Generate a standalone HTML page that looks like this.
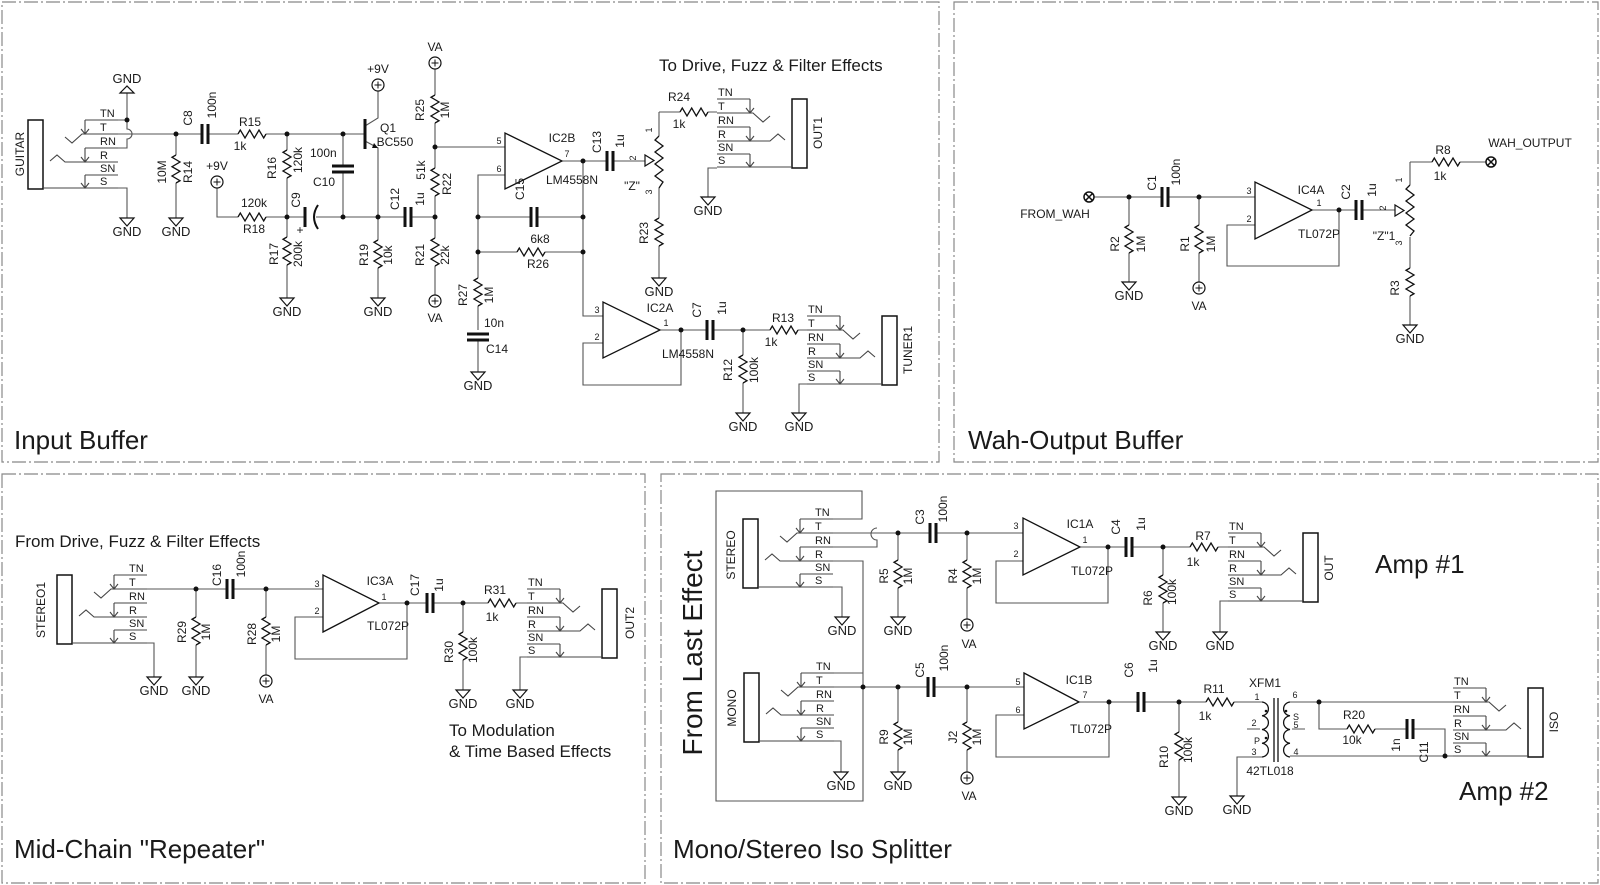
<!DOCTYPE html>
<html><head><meta charset="utf-8">
<style>
html,body{margin:0;padding:0;background:#fff;}
svg{display:block;}
text{font-family:"Liberation Sans",sans-serif;fill:#1a1a1a;}
.t{font-size:12px;}
.s{font-size:11px;}
.p{font-size:9px;}
.g{font-size:13px;text-anchor:middle;}
.big{font-size:26px;}
.mid{font-size:17px;}
.w{fill:none;stroke:#555;stroke-width:1.1;}
.k{fill:none;stroke:#111;stroke-width:1.3;}
</style></head><body>
<svg width="1600" height="885" viewBox="0 0 1600 885" xmlns="http://www.w3.org/2000/svg">
<defs>
<g id="rv"><rect x="-6" y="0" width="12" height="28" fill="#fff"/><path d="M0 0 L-4 2.3 L4 7 L-4 11.7 L4 16.3 L-4 21 L4 25.7 L0 28" fill="none" stroke="#111" stroke-width="1.3"/></g>
<g id="rh"><rect x="0" y="-6" width="28" height="12" fill="#fff"/><path d="M0 0 L2.3 -4 L7 4 L11.7 -4 L16.3 4 L21 -4 L25.7 4 L28 0" fill="none" stroke="#111" stroke-width="1.3"/></g>
<g id="ch"><rect x="0" y="-11" width="6" height="22" fill="#fff"/><path d="M0 -10 V10 M6 -10 V10" stroke="#111" stroke-width="3"/></g>
<g id="cv"><rect x="-12" y="0" width="24" height="6" fill="#fff"/><path d="M-11 0 H11 M-11 6 H11" stroke="#111" stroke-width="3"/></g>
<g id="gnd"><path d="M-7 0 H7 L0 8 Z" fill="none" stroke="#111" stroke-width="1.2"/></g>
<g id="vcc"><circle r="6" fill="#fff" stroke="#111" stroke-width="1.2"/><path d="M-3.5 0 H3.5 M0 -3.5 V3.5" stroke="#111" stroke-width="1"/></g>
<g id="jk" fill="none" stroke="#444" stroke-width="1.1">
<rect x="0" y="0" width="15" height="69" fill="#fff" stroke="#111" stroke-width="1.5"/>
<path d="M57 0 H90 M57 0 V14 M53 9 L57 14 L61 9"/>
<path d="M37 17 L44 23 L54 14 H90"/>
<path d="M57 28 H90 M57 28 V42 M53 37 L57 42 L61 37"/>
<path d="M22 41 L29 35 L37 42 H90"/>
<path d="M57 55 H90 M57 55 V68 M53 63 L57 68 L61 63"/>
<path d="M15 68 H90"/>
</g>
</defs>

<!-- panel borders -->
<g fill="none" stroke="#888" stroke-width="1.2" stroke-dasharray="14,3,2,3">
<rect x="2" y="2" width="937" height="460"/>
<rect x="954" y="2" width="644" height="460"/>
<rect x="2" y="474" width="643" height="409"/>
<rect x="661" y="474" width="937" height="409"/>
</g>

<!-- ================= INPUT BUFFER ================= -->
<g class="w">
<path d="M118 120 H127 V93"/>
<path d="M127 120 V129 A5 5 0 0 1 127 139 V148 H118"/>
<path d="M118 134 H365"/>
<path d="M118 188 H127 V218"/>
<path d="M176 134 V218"/>
<path d="M287 134 V298"/>
<path d="M217 188 V217 H435"/>
<path d="M343 134 V217"/>
<path d="M365 126 L378 118 V91"/>
<path d="M365 141 L378 148 V298"/>
<path d="M435 69 V295"/>
<path d="M435 147 H505"/>
<path d="M505 175 H478 V330 M478 341 V372"/>
<path d="M478 217 H583 M478 252 H583"/>
<path d="M562 161 H645"/>
<path d="M583 161 V316 H603"/>
<path d="M603 343 H583 V385 H681 V330"/>
<path d="M660 330 H807"/>
<path d="M743 330 V413"/>
<path d="M659 112 V278"/>
<path d="M659 112 H717"/>
<path d="M717 168 H708 V197"/>
<path d="M807 384 H799 V413"/>
</g>
<path d="M374 143 L378 148 L372 148 Z" fill="#111"/>
<path d="M365 119 V149" stroke="#111" stroke-width="3"/>
<path d="M127 93 L120 93 L127 86 L134 93 Z" fill="none" stroke="#111" stroke-width="1.2"/>
<use href="#jk" transform="translate(28,120)"/>
<use href="#jk" transform="translate(807,99) scale(-1,1)"/>
<use href="#jk" transform="translate(897,316) scale(-1,1)"/>
<use href="#ch" x="202" y="134"/>
<use href="#rh" x="238" y="134"/>
<use href="#rv" x="176" y="155"/>
<use href="#rv" x="287" y="150"/>
<use href="#rh" x="238" y="217"/>
<use href="#rv" x="287" y="237"/>
<rect x="304" y="206" width="12" height="22" fill="#fff"/>
<path d="M305 207 V227" stroke="#111" stroke-width="3"/>
<path d="M318 205 Q310 217 318 229" fill="none" stroke="#111" stroke-width="2"/>
<use href="#cv" x="343" y="166"/>
<use href="#rv" x="378" y="240"/>
<use href="#ch" x="405" y="217"/>
<use href="#rv" x="435" y="95"/>
<use href="#rv" x="435" y="168"/>
<use href="#rv" x="435" y="238"/>
<use href="#ch" x="531" y="217"/>
<use href="#rh" x="517" y="252"/>
<use href="#rv" x="478" y="278"/>
<use href="#cv" x="478" y="334"/>
<use href="#ch" x="607" y="161"/>
<rect x="652" y="136" width="14" height="52" fill="#fff"/>
<path d="M659 136 L655 140 L663 146 L655 152 L663 158 L655 164 L663 170 L655 176 L663 182 L659 188" fill="none" stroke="#111" stroke-width="1.3"/>
<path d="M645 155 L645 166 L654 160.5 Z" fill="none" stroke="#111" stroke-width="1.2"/>
<use href="#rv" x="659" y="218"/>
<use href="#rh" x="680" y="112"/>
<use href="#ch" x="707" y="330"/>
<use href="#rv" x="743" y="355"/>
<use href="#rh" x="770" y="330"/>
<polygon points="505,133 505,189 562,161" fill="#fff" stroke="#111" stroke-width="1.3"/>
<polygon points="603,302 603,358 660,330" fill="#fff" stroke="#111" stroke-width="1.3"/>
<use href="#vcc" x="217" y="182"/>
<use href="#vcc" x="378" y="85"/>
<use href="#vcc" x="435" y="63"/>
<use href="#vcc" x="435" y="301"/>
<use href="#gnd" x="127" y="218"/>
<use href="#gnd" x="176" y="218"/>
<use href="#gnd" x="287" y="298"/>
<use href="#gnd" x="378" y="298"/>
<use href="#gnd" x="478" y="372"/>
<use href="#gnd" x="659" y="278"/>
<use href="#gnd" x="708" y="197"/>
<use href="#gnd" x="743" y="413"/>
<use href="#gnd" x="799" y="413"/>
<g fill="#111">
<circle cx="127" cy="120" r="2.5"/><circle cx="176" cy="134" r="2.5"/><circle cx="287" cy="134" r="2.5"/><circle cx="343" cy="134" r="2.5"/>
<circle cx="287" cy="217" r="2.5"/><circle cx="343" cy="217" r="2.5"/><circle cx="378" cy="217" r="2.5"/><circle cx="435" cy="217" r="2.5"/><circle cx="435" cy="147" r="2.5"/>
<circle cx="478" cy="217" r="2.5"/><circle cx="478" cy="252" r="2.5"/><circle cx="583" cy="217" r="2.5"/><circle cx="583" cy="252" r="2.5"/><circle cx="583" cy="161" r="2.5"/>
<circle cx="681" cy="330" r="2.5"/><circle cx="743" cy="330" r="2.5"/>
</g>
<g class="s">
<text x="100" y="117">TN</text><text x="100" y="131">T</text><text x="100" y="145">RN</text><text x="100" y="159">R</text><text x="100" y="172">SN</text><text x="100" y="185">S</text>
<text x="718" y="96">TN</text><text x="718" y="110">T</text><text x="718" y="124">RN</text><text x="718" y="138">R</text><text x="718" y="151">SN</text><text x="718" y="164">S</text>
<text x="808" y="313">TN</text><text x="808" y="327">T</text><text x="808" y="341">RN</text><text x="808" y="355">R</text><text x="808" y="368">SN</text><text x="808" y="381">S</text>
</g>
<g class="g">
<text x="127" y="83">GND</text><text x="127" y="236">GND</text><text x="176" y="236">GND</text><text x="287" y="316">GND</text><text x="378" y="316">GND</text>
<text x="478" y="390">GND</text><text x="659" y="296">GND</text><text x="708" y="215">GND</text><text x="743" y="431">GND</text><text x="799" y="431">GND</text>
</g>
<g class="t" text-anchor="middle">
<text transform="rotate(-90 24 154)" x="24" y="154">GUITAR</text>
<text transform="rotate(-90 822 133)" x="822" y="133">OUT1</text>
<text transform="rotate(-90 912 350)" x="912" y="350">TUNER1</text>
<text transform="rotate(-90 192 118)" x="192" y="118">C8</text>
<text transform="rotate(-90 216 105)" x="216" y="105">100n</text>
<text x="250" y="126">R15</text><text x="240" y="150">1k</text>
<text transform="rotate(-90 166 172)" x="166" y="172">10M</text>
<text transform="rotate(-90 192 172)" x="192" y="172">R14</text>
<text x="217" y="170">+9V</text>
<text transform="rotate(-90 276 168)" x="276" y="168">R16</text>
<text transform="rotate(-90 302 160)" x="302" y="160">120k</text>
<text x="254" y="207">120k</text><text x="254" y="233">R18</text>
<text transform="rotate(-90 278 254)" x="278" y="254">R17</text>
<text transform="rotate(-90 302 254)" x="302" y="254">200k</text>
<text transform="rotate(-90 300 200)" x="300" y="200">C9</text>
<text x="300" y="234">+</text>
<text x="310" y="157" text-anchor="start">100n</text><text x="313" y="186" text-anchor="start">C10</text>
<text x="378" y="73">+9V</text>
<text x="388" y="132">Q1</text><text x="395" y="146">BC550</text>
<text transform="rotate(-90 368 255)" x="368" y="255">R19</text>
<text transform="rotate(-90 392 255)" x="392" y="255">10k</text>
<text transform="rotate(-90 399 199)" x="399" y="199">C12</text>
<text transform="rotate(-90 424 199)" x="424" y="199">1u</text>
<text x="435" y="51">VA</text><text x="435" y="322">VA</text>
<text transform="rotate(-90 424 110)" x="424" y="110">R25</text>
<text transform="rotate(-90 449 110)" x="449" y="110">1M</text>
<text transform="rotate(-90 425 170)" x="425" y="170">51k</text>
<text transform="rotate(-90 451 184)" x="451" y="184">R22</text>
<text transform="rotate(-90 424 255)" x="424" y="255">R21</text>
<text transform="rotate(-90 449 255)" x="449" y="255">22k</text>
<text x="562" y="142">IC2B</text><text x="572" y="184">LM4558N</text>
<text transform="rotate(-90 524 189)" x="524" y="189">C15</text>
<text x="540" y="243">6k8</text><text x="538" y="268">R26</text>
<text transform="rotate(-90 467 295)" x="467" y="295">R27</text>
<text transform="rotate(-90 493 295)" x="493" y="295">1M</text>
<text x="494" y="327">10n</text><text x="497" y="353">C14</text>
<text transform="rotate(-90 601 142)" x="601" y="142">C13</text>
<text transform="rotate(-90 624 141)" x="624" y="141">1u</text>
<text x="632" y="190">"Z"</text>
<text x="679" y="101">R24</text><text x="679" y="128">1k</text>
<text transform="rotate(-90 648 233)" x="648" y="233">R23</text>
<text x="660" y="312">IC2A</text><text x="688" y="358">LM4558N</text>
<text transform="rotate(-90 701 310)" x="701" y="310">C7</text>
<text transform="rotate(-90 726 308)" x="726" y="308">1u</text>
<text x="783" y="322">R13</text><text x="771" y="346">1k</text>
<text transform="rotate(-90 732 370)" x="732" y="370">R12</text>
<text transform="rotate(-90 758 370)" x="758" y="370">100k</text>
</g>
<g class="p" text-anchor="middle">
<text x="499" y="144">5</text><text x="499" y="172">6</text><text x="567" y="157">7</text>
<text x="597" y="313">3</text><text x="597" y="340">2</text><text x="666" y="326">1</text>
<text transform="rotate(-90 636 158)" x="636" y="158">2</text>
<text transform="rotate(-90 652 130)" x="652" y="130">1</text>
<text transform="rotate(-90 652 192)" x="652" y="192">3</text>
</g>
<text class="mid" x="659" y="71">To Drive, Fuzz &amp; Filter Effects</text>
<text class="big" x="14" y="449">Input Buffer</text>

<!-- ================= WAH ================= -->
<g class="w">
<path d="M1094 197 H1255"/>
<path d="M1129 197 V282 M1199 197 V282"/>
<path d="M1255 225 H1227 V266 H1339 V210"/>
<path d="M1312 210 H1395"/>
<path d="M1410 162 V325 M1410 162 H1486"/>
</g>
<circle cx="1089" cy="197" r="5" fill="#fff" stroke="#111" stroke-width="1.5"/><path d="M1085.5 193.5 L1092.5 200.5 M1092.5 193.5 L1085.5 200.5" stroke="#111" stroke-width="1.5"/>
<circle cx="1491" cy="162" r="5" fill="#fff" stroke="#111" stroke-width="1.5"/><path d="M1487.5 158.5 L1494.5 165.5 M1494.5 158.5 L1487.5 165.5" stroke="#111" stroke-width="1.5"/>
<use href="#ch" x="1162" y="197"/>
<use href="#rv" x="1129" y="225"/>
<use href="#rv" x="1199" y="225"/>
<use href="#ch" x="1356" y="210"/>
<polygon points="1255,182 1255,239 1312,210" fill="#fff" stroke="#111" stroke-width="1.3"/>
<rect x="1403" y="185" width="14" height="52" fill="#fff"/>
<path d="M1410 185 L1406 189 L1414 195 L1406 201 L1414 207 L1406 213 L1414 219 L1406 225 L1414 231 L1410 236" fill="none" stroke="#111" stroke-width="1.3"/>
<path d="M1395 205 L1395 216 L1404 210.5 Z" fill="none" stroke="#111" stroke-width="1.2"/>
<use href="#rv" x="1410" y="268"/>
<use href="#rh" x="1432" y="162"/>
<use href="#vcc" x="1199" y="288"/>
<use href="#gnd" x="1129" y="282"/>
<use href="#gnd" x="1410" y="325"/>
<g fill="#111"><circle cx="1129" cy="197" r="2.5"/><circle cx="1199" cy="197" r="2.5"/><circle cx="1339" cy="210" r="2.5"/></g>
<g class="g"><text x="1129" y="300">GND</text><text x="1410" y="343">GND</text></g>
<g class="t" text-anchor="middle">
<text x="1055" y="218">FROM_WAH</text>
<text x="1530" y="147">WAH_OUTPUT</text>
<text transform="rotate(-90 1156 183)" x="1156" y="183">C1</text>
<text transform="rotate(-90 1180 172)" x="1180" y="172">100n</text>
<text transform="rotate(-90 1119 244)" x="1119" y="244">R2</text>
<text transform="rotate(-90 1145 244)" x="1145" y="244">1M</text>
<text transform="rotate(-90 1189 244)" x="1189" y="244">R1</text>
<text transform="rotate(-90 1215 244)" x="1215" y="244">1M</text>
<text x="1199" y="310">VA</text>
<text x="1311" y="194">IC4A</text><text x="1319" y="238">TL072P</text>
<text transform="rotate(-90 1350 192)" x="1350" y="192">C2</text>
<text transform="rotate(-90 1376 190)" x="1376" y="190">1u</text>
<text x="1384" y="240">"Z"1</text>
<text x="1443" y="154">R8</text><text x="1440" y="180">1k</text>
<text transform="rotate(-90 1399 288)" x="1399" y="288">R3</text>
</g>
<g class="p" text-anchor="middle">
<text x="1249" y="194">3</text><text x="1249" y="222">2</text><text x="1319" y="206">1</text>
<text transform="rotate(-90 1386 208)" x="1386" y="208">2</text>
<text transform="rotate(-90 1402 180)" x="1402" y="180">1</text>
<text transform="rotate(-90 1402 243)" x="1402" y="243">3</text>
</g>
<text class="big" x="968" y="449">Wah-Output Buffer</text>

<!-- ================= MID-CHAIN ================= -->
<g class="w">
<path d="M147 589 H323"/>
<path d="M196 589 V677 M266 589 V675"/>
<path d="M147 643 H154 V677"/>
<path d="M323 617 H295 V659 H407 V603"/>
<path d="M379 603 H527"/>
<path d="M463 603 V690"/>
<path d="M527 657 H520 V690"/>
</g>
<use href="#jk" transform="translate(57,575)"/>
<use href="#jk" transform="translate(617,589) scale(-1,1)"/>
<use href="#ch" x="227" y="589"/>
<use href="#rv" x="196" y="617"/>
<use href="#rv" x="266" y="617"/>
<use href="#ch" x="427" y="603"/>
<use href="#rv" x="463" y="632"/>
<use href="#rh" x="488" y="603"/>
<polygon points="323,575 323,632 379,603" fill="#fff" stroke="#111" stroke-width="1.3"/>
<use href="#vcc" x="266" y="681"/>
<use href="#gnd" x="154" y="677"/><use href="#gnd" x="196" y="677"/><use href="#gnd" x="463" y="690"/><use href="#gnd" x="520" y="690"/>
<g fill="#111"><circle cx="196" cy="589" r="2.5"/><circle cx="266" cy="589" r="2.5"/><circle cx="407" cy="603" r="2.5"/><circle cx="463" cy="603" r="2.5"/></g>
<g class="s">
<text x="129" y="572">TN</text><text x="129" y="586">T</text><text x="129" y="600">RN</text><text x="129" y="614">R</text><text x="129" y="627">SN</text><text x="129" y="640">S</text>
<text x="528" y="586">TN</text><text x="528" y="600">T</text><text x="528" y="614">RN</text><text x="528" y="628">R</text><text x="528" y="641">SN</text><text x="528" y="654">S</text>
</g>
<g class="g"><text x="154" y="695">GND</text><text x="196" y="695">GND</text><text x="463" y="708">GND</text><text x="520" y="708">GND</text></g>
<g class="t" text-anchor="middle">
<text transform="rotate(-90 45 610)" x="45" y="610">STEREO1</text>
<text transform="rotate(-90 634 623)" x="634" y="623">OUT2</text>
<text transform="rotate(-90 221 575)" x="221" y="575">C16</text>
<text transform="rotate(-90 245 564)" x="245" y="564">100n</text>
<text transform="rotate(-90 186 632)" x="186" y="632">R29</text>
<text transform="rotate(-90 210 632)" x="210" y="632">1M</text>
<text transform="rotate(-90 256 634)" x="256" y="634">R28</text>
<text transform="rotate(-90 280 634)" x="280" y="634">1M</text>
<text x="266" y="703">VA</text>
<text x="380" y="585">IC3A</text><text x="388" y="630">TL072P</text>
<text transform="rotate(-90 419 585)" x="419" y="585">C17</text>
<text transform="rotate(-90 443 585)" x="443" y="585">1u</text>
<text x="495" y="594">R31</text><text x="492" y="621">1k</text>
<text transform="rotate(-90 453 652)" x="453" y="652">R30</text>
<text transform="rotate(-90 477 650)" x="477" y="650">100k</text>
</g>
<g class="p" text-anchor="middle"><text x="317" y="587">3</text><text x="317" y="614">2</text><text x="384" y="600">1</text></g>
<text class="mid" x="15" y="547">From Drive, Fuzz &amp; Filter Effects</text>
<text class="mid" x="449" y="736">To Modulation</text>
<text class="mid" x="449" y="757">&amp; Time Based Effects</text>
<text class="big" x="14" y="858">Mid-Chain "Repeater"</text>

<!-- ================= SPLITTER ================= -->
<g class="w">
<path d="M833 519 H862 V491 H716 V801 H863 V561 H833"/>
<path d="M833 533 H1023"/>
<path d="M833 547 H877 V540 A6 6 0 0 1 877 528"/>
<path d="M833 587 H842 V617"/>
<path d="M898 533 V617 M967 533 V619"/>
<path d="M1023 561 H996 V603 H1108 V547"/>
<path d="M1080 547 H1228"/>
<path d="M1163 547 V632"/>
<path d="M1228 601 H1220 V632"/>
<path d="M834 673 H863 M834 687 H1024"/>
<path d="M834 741 H841 V772"/>
<path d="M898 687 V772 M967 687 V772"/>
<path d="M1024 715 H996 V757 H1109 V702"/>
<path d="M1079 702 H1262"/>
<path d="M1179 702 V797"/>
<path d="M1262 757 H1237 V796"/>
<path d="M1247 729 H1260 M1292 729 H1305"/>
<path d="M1290 702 H1453 M1290 756 H1453"/>
<path d="M1319 702 V729 H1445 V756"/>
</g>
<path d="M1262 702 a7 6.9 0 0 1 0 13.75 a7 6.9 0 0 1 0 13.75 a7 6.9 0 0 1 0 13.75 a7 6.9 0 0 1 0 13.75" fill="none" stroke="#111" stroke-width="1.3"/>
<path d="M1290 702 a7 6.9 0 0 0 0 13.75 a7 6.9 0 0 0 0 13.75 a7 6.9 0 0 0 0 13.75 a7 6.9 0 0 0 0 13.75" fill="none" stroke="#111" stroke-width="1.3"/>
<path d="M1274 698 V762 M1278 698 V762" stroke="#111" stroke-width="1.3"/>
<g fill="#111"><circle cx="1266" cy="711" r="1.3"/><circle cx="1266" cy="738" r="1.3"/><circle cx="1286" cy="711" r="1.3"/></g>
<use href="#jk" transform="translate(743,519)"/>
<use href="#jk" transform="translate(744,673)"/>
<use href="#jk" transform="translate(1318,533) scale(-1,1)"/>
<use href="#jk" transform="translate(1543,688) scale(-1,1)"/>
<use href="#ch" x="930" y="533"/>
<use href="#rv" x="898" y="560"/>
<use href="#rv" x="967" y="560"/>
<use href="#ch" x="1126" y="547"/>
<use href="#rh" x="1190" y="547"/>
<use href="#rv" x="1163" y="575"/>
<use href="#ch" x="928" y="687"/>
<use href="#rv" x="898" y="722"/>
<use href="#rv" x="967" y="722"/>
<use href="#ch" x="1138" y="702"/>
<use href="#rh" x="1206" y="702"/>
<use href="#rv" x="1179" y="732"/>
<use href="#rh" x="1347" y="729"/>
<use href="#ch" x="1407" y="729"/>
<polygon points="1023,518 1023,575 1080,547" fill="#fff" stroke="#111" stroke-width="1.3"/>
<polygon points="1024,673 1024,729 1079,702" fill="#fff" stroke="#111" stroke-width="1.3"/>
<use href="#vcc" x="967" y="625"/><use href="#vcc" x="967" y="778"/>
<use href="#gnd" x="842" y="617"/><use href="#gnd" x="898" y="617"/><use href="#gnd" x="1163" y="632"/><use href="#gnd" x="1220" y="632"/>
<use href="#gnd" x="841" y="772"/><use href="#gnd" x="898" y="772"/><use href="#gnd" x="1179" y="797"/><use href="#gnd" x="1237" y="796"/>
<g fill="#111">
<circle cx="898" cy="533" r="2.5"/><circle cx="967" cy="533" r="2.5"/><circle cx="1108" cy="547" r="2.5"/><circle cx="1163" cy="547" r="2.5"/>
<circle cx="863" cy="687" r="2.5"/><circle cx="898" cy="687" r="2.5"/><circle cx="967" cy="687" r="2.5"/><circle cx="1109" cy="702" r="2.5"/><circle cx="1179" cy="702" r="2.5"/>
<circle cx="1319" cy="702" r="2.5"/><circle cx="1445" cy="756" r="2.5"/>
</g>
<g class="s">
<text x="815" y="516">TN</text><text x="815" y="530">T</text><text x="815" y="544">RN</text><text x="815" y="558">R</text><text x="815" y="571">SN</text><text x="815" y="584">S</text>
<text x="816" y="670">TN</text><text x="816" y="684">T</text><text x="816" y="698">RN</text><text x="816" y="712">R</text><text x="816" y="725">SN</text><text x="816" y="738">S</text>
<text x="1229" y="530">TN</text><text x="1229" y="544">T</text><text x="1229" y="558">RN</text><text x="1229" y="572">R</text><text x="1229" y="585">SN</text><text x="1229" y="598">S</text>
<text x="1454" y="685">TN</text><text x="1454" y="699">T</text><text x="1454" y="713">RN</text><text x="1454" y="727">R</text><text x="1454" y="740">SN</text><text x="1454" y="753">S</text>
</g>
<g class="g">
<text x="842" y="635">GND</text><text x="898" y="635">GND</text><text x="1163" y="650">GND</text><text x="1220" y="650">GND</text>
<text x="841" y="790">GND</text><text x="898" y="790">GND</text><text x="1179" y="815">GND</text><text x="1237" y="814">GND</text>
</g>
<g class="t" text-anchor="middle">
<text transform="rotate(-90 735 555)" x="735" y="555">STEREO</text>
<text transform="rotate(-90 736 708)" x="736" y="708">MONO</text>
<text transform="rotate(-90 1333 568)" x="1333" y="568">OUT</text>
<text transform="rotate(-90 1558 722)" x="1558" y="722">ISO</text>
<text transform="rotate(-90 924 517)" x="924" y="517">C3</text>
<text transform="rotate(-90 947 509)" x="947" y="509">100n</text>
<text transform="rotate(-90 888 576)" x="888" y="576">R5</text>
<text transform="rotate(-90 912 576)" x="912" y="576">1M</text>
<text transform="rotate(-90 957 576)" x="957" y="576">R4</text>
<text transform="rotate(-90 981 576)" x="981" y="576">1M</text>
<text x="969" y="648">VA</text>
<text x="1080" y="528">IC1A</text><text x="1092" y="575">TL072P</text>
<text transform="rotate(-90 1120 527)" x="1120" y="527">C4</text>
<text transform="rotate(-90 1145 524)" x="1145" y="524">1u</text>
<text x="1203" y="540">R7</text><text x="1193" y="566">1k</text>
<text transform="rotate(-90 1152 598)" x="1152" y="598">R6</text>
<text transform="rotate(-90 1176 592)" x="1176" y="592">100k</text>
<text transform="rotate(-90 924 670)" x="924" y="670">C5</text>
<text transform="rotate(-90 948 658)" x="948" y="658">100n</text>
<text transform="rotate(-90 888 737)" x="888" y="737">R9</text>
<text transform="rotate(-90 912 737)" x="912" y="737">1M</text>
<text transform="rotate(-90 957 737)" x="957" y="737">J2</text>
<text transform="rotate(-90 981 737)" x="981" y="737">1M</text>
<text x="969" y="800">VA</text>
<text x="1079" y="684">IC1B</text><text x="1091" y="733">TL072P</text>
<text transform="rotate(-90 1133 670)" x="1133" y="670">C6</text>
<text transform="rotate(-90 1157 666)" x="1157" y="666">1u</text>
<text x="1214" y="693">R11</text><text x="1205" y="720">1k</text>
<text transform="rotate(-90 1168 757)" x="1168" y="757">R10</text>
<text transform="rotate(-90 1192 750)" x="1192" y="750">100k</text>
<text x="1265" y="687">XFM1</text><text x="1270" y="775">42TL018</text>
<text x="1354" y="719">R20</text><text x="1352" y="744">10k</text>
<text transform="rotate(-90 1400 745)" x="1400" y="745">1n</text>
<text transform="rotate(-90 1428 752)" x="1428" y="752">C11</text>
</g>
<g class="p" text-anchor="middle">
<text x="1016" y="529">3</text><text x="1016" y="557">2</text><text x="1085" y="543">1</text>
<text x="1018" y="685">5</text><text x="1018" y="713">6</text><text x="1085" y="698">7</text>
<text x="1257" y="700">1</text><text x="1254" y="726">2</text><text x="1257" y="744">P</text><text x="1254" y="755">3</text>
<text x="1295" y="698">6</text><text x="1296" y="720">S</text><text x="1296" y="728">5</text><text x="1296" y="755">4</text>
</g>
<text class="big" x="1375" y="573">Amp #1</text>
<text class="big" x="1459" y="800">Amp #2</text>
<text class="big" transform="rotate(-90 702 653)" x="702" y="653" text-anchor="middle" style="font-size:28px">From Last Effect</text>
<text class="big" x="673" y="858">Mono/Stereo Iso Splitter</text>
</svg>
</body></html>
